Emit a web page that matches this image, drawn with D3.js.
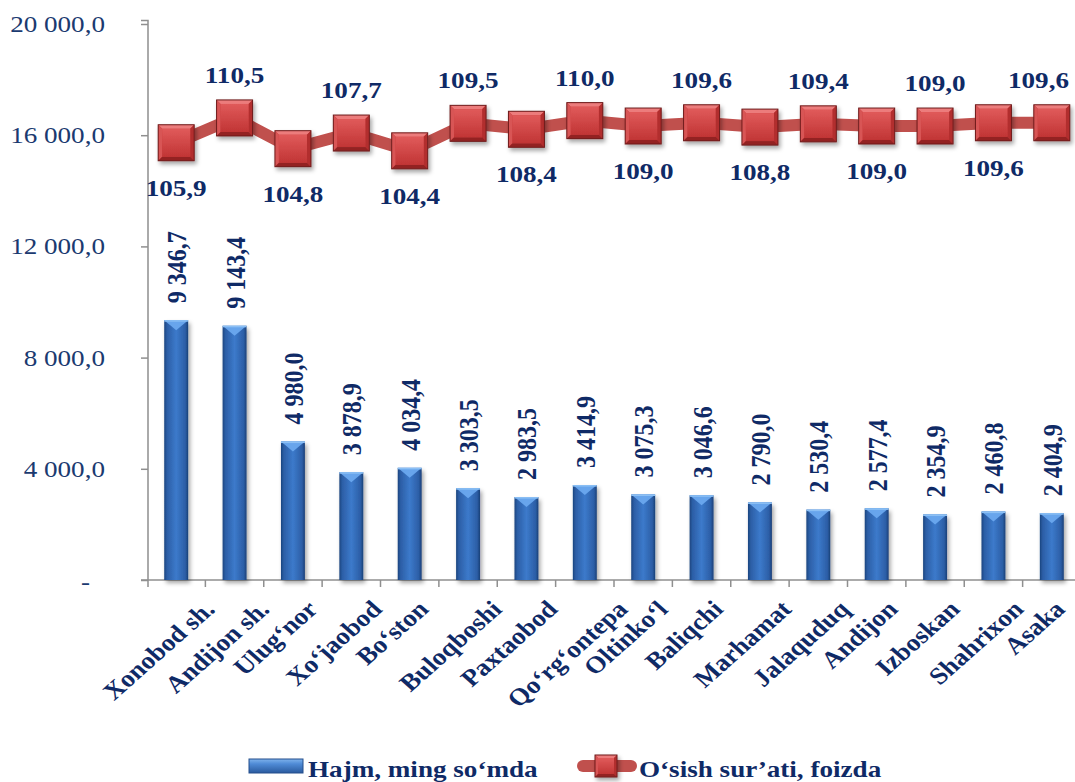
<!DOCTYPE html>
<html lang="en">
<head>
  <meta charset="UTF-8">
  <title>Hajm va o'sish sur'ati</title>
  <script src="https://d3js.org/d3.v7.min.js"></script>
  <style>
    * { margin: 0; padding: 0; box-sizing: border-box; }
    body { width: 1075px; height: 782px; background: #fff; overflow: hidden; }
    svg { display: block; }
    text { font-family: "Liberation Serif", "Times New Roman", serif; }
  </style>
</head>
<body>
  <div id="chart"></div>

  <script>
    // Data
    const categories = ["Xonobod sh.", "Andijon sh.", "Ulug‘nor", "Xo‘jaobod", "Bo‘ston", "Buloqboshi",
      "Paxtaobod", "Qo‘rg‘ontepa", "Oltinko‘l", "Baliqchi", "Marhamat", "Jalaquduq",
      "Andijon", "Izboskan", "Shahrixon", "Asaka"];
    const volume = [9346.7, 9143.4, 4980.0, 3878.9, 4034.4, 3303.5, 2983.5, 3414.9,
      3075.3, 3046.6, 2790.0, 2530.4, 2577.4, 2354.9, 2460.8, 2404.9];
    const growth = [105.9, 110.5, 104.8, 107.7, 104.4, 109.5, 108.4, 110.0,
      109.0, 109.6, 108.8, 109.4, 109.0, 109.0, 109.6, 109.6];
    const yTicks = [0, 4000, 8000, 12000, 16000, 20000];
    const seriesNames = ["Hajm, ming so‘mda", "O‘sish sur’ati, foizda"];

    const width = 1075, height = 782;
    const SX = 1.13;            // text in the picture is a bit wide
    const navy = "#0f2a66";
    const axisGrey = "#8f8f8f";

    const svg = d3.select("#chart").append("svg")
      .attr("width", width).attr("height", height);

    const defs = svg.append("defs");

    const barGrad = defs.append("linearGradient").attr("id", "barGrad")
      .attr("x1", 0).attr("x2", 1).attr("y1", 0).attr("y2", 0);
    [[0, "#1b457f"], [0.12, "#2c5ea6"], [0.5, "#3c7acb"], [0.88, "#2c5ea6"], [1, "#1a4077"]]
      .forEach(s => barGrad.append("stop").attr("offset", s[0]).attr("stop-color", s[1]));

    const legGrad = defs.append("linearGradient").attr("id", "legGrad")
      .attr("x1", 0).attr("x2", 0).attr("y1", 0).attr("y2", 1);
    [[0, "#7fb3ec"], [0.35, "#4f8bd6"], [1, "#2a5a9e"]]
      .forEach(s => legGrad.append("stop").attr("offset", s[0]).attr("stop-color", s[1]));

    const faceGrad = defs.append("linearGradient").attr("id", "faceGrad")
      .attr("x1", 0).attr("x2", 0).attr("y1", 0).attr("y2", 1);
    [[0, "#e05a5a"], [1, "#c13535"]]
      .forEach(s => faceGrad.append("stop").attr("offset", s[0]).attr("stop-color", s[1]));

    const shadow = defs.append("filter").attr("id", "shadow")
      .attr("x", "-30%").attr("y", "-30%").attr("width", "160%").attr("height", "160%");
    shadow.append("feDropShadow").attr("dx", 2).attr("dy", 3)
      .attr("stdDeviation", 2).attr("flood-color", "#000").attr("flood-opacity", 0.35);

    // Scales
    const x = d3.scaleBand().domain(categories).range([147, 1081])
      .paddingInner(0.59).paddingOuter(0.295);
    const y = d3.scaleLinear().domain([0, 20000]).range([580, 24]);
    const y2 = d3.scaleLinear().domain([24.9, 127.9]).range([580, 24]);
    const cx = d => x(d) + x.bandwidth() / 2;

    const fmt = v => v === 0 ? "-" :
      d3.format(",.1f")(v).replace(/,/g, " ").replace(".", ",");

    // helper: text stretched horizontally like in the picture
    function place(sel, tx, ty, rot) {
      sel.attr("transform", (d, i) =>
        `translate(${tx(d, i)},${ty(d, i)}) scale(${SX},1) rotate(${rot})`);
    }

    // Y axis
    const yAxis = svg.append("g").attr("transform", "translate(148,0)")
      .call(d3.axisLeft(y).tickValues(yTicks).tickSize(7).tickFormat(""));
    yAxis.select(".domain").attr("stroke", axisGrey).attr("stroke-width", 1.5)
      .attr("d", "M-7,20.5H0V587");
    yAxis.selectAll(".tick line").attr("stroke", axisGrey).attr("stroke-width", 1.5);

    svg.append("g").selectAll("text").data(yTicks).join("text")
      .attr("text-anchor", "end")
      .attr("dominant-baseline", "central")
      .attr("font-size", 24)
      .attr("fill", "#1b3a70")
      .text(d => fmt(d))
      .call(place, d => d === 0 ? 90 : 105, d => y(d) + (d === 0 ? 2 : 0), 0);

    // X axis
    const bounds = categories.map(c => x(c) - x.step() * x.paddingInner() / 2);
    const xAxis = svg.append("g");
    xAxis.append("line").attr("x1", 141).attr("x2", width)
      .attr("y1", 580).attr("y2", 580)
      .attr("stroke", axisGrey).attr("stroke-width", 1.5);
    xAxis.selectAll(".tk").data(bounds.slice(1)).join("line").attr("class", "tk")
      .attr("x1", d => d).attr("x2", d => d).attr("y1", 580).attr("y2", 587)
      .attr("stroke", axisGrey).attr("stroke-width", 1.5);

    // Bars
    const bars = svg.append("g").selectAll("g").data(categories).join("g");
    bars.append("rect")
      .attr("x", d => x(d)).attr("width", x.bandwidth())
      .attr("y", (d, i) => y(volume[i]))
      .attr("height", (d, i) => y(0) - y(volume[i]))
      .attr("fill", "url(#barGrad)")
      .attr("filter", "url(#shadow)");
    bars.append("polygon")
      .attr("points", (d, i) => {
        const t = y(volume[i]), l = x(d), r = l + x.bandwidth();
        return `${l},${t} ${r},${t} ${cx(d)},${t + 10}`;
      })
      .attr("fill", "#6aa8ee").attr("opacity", 0.95);
    bars.append("rect")
      .attr("x", d => x(d)).attr("width", x.bandwidth())
      .attr("y", (d, i) => y(volume[i])).attr("height", 1.5)
      .attr("fill", "#8cc0f5");

    // Bar labels
    svg.append("g").selectAll("text").data(categories).join("text")
      .attr("text-anchor", "start")
      .attr("dominant-baseline", "central")
      .attr("font-size", 24).attr("font-weight", "bold")
      .attr("fill", navy)
      .text((d, i) => fmt(volume[i]))
      .call(place, d => cx(d) + 1, (d, i) => y(volume[i]) - 17, -90);

    // Growth line
    const line = d3.line().x((d, i) => cx(categories[i])).y(d => y2(d));
    svg.append("path").datum(growth)
      .attr("d", line)
      .attr("fill", "none")
      .attr("stroke", "#c0504d")
      .attr("stroke-width", 12);

    function marker(g, s) {
      const b = Math.max(3, s / 4.5);
      g.attr("filter", "url(#shadow)");
      g.append("rect").attr("x", -s).attr("y", -s).attr("width", 2 * s).attr("height", 2 * s)
        .attr("fill", "#c83c3c");
      g.append("polygon").attr("points", `${-s},${-s} ${s},${-s} ${s - b},${-s + b} ${-s + b},${-s + b}`)
        .attr("fill", "#ec7b7b");
      g.append("polygon").attr("points", `${-s},${-s} ${-s + b},${-s + b} ${-s + b},${s - b} ${-s},${s}`)
        .attr("fill", "#d85454");
      g.append("polygon").attr("points", `${s},${-s} ${s - b},${-s + b} ${s - b},${s - b} ${s},${s}`)
        .attr("fill", "#b22e2e");
      g.append("polygon").attr("points", `${-s},${s} ${s},${s} ${s - b},${s - b} ${-s + b},${s - b}`)
        .attr("fill", "#932424");
      g.append("rect").attr("x", -s + b).attr("y", -s + b)
        .attr("width", 2 * (s - b)).attr("height", 2 * (s - b))
        .attr("fill", "url(#faceGrad)");
      g.append("rect").attr("x", -s).attr("y", -s).attr("width", 2 * s).attr("height", 2 * s)
        .attr("fill", "none").attr("stroke", "#6e1d1d").attr("stroke-width", 1);
    }

    svg.append("g").selectAll("g").data(growth).join("g")
      .attr("transform", (d, i) => `translate(${cx(categories[i])},${y2(d)})`)
      .each(function () { marker(d3.select(this), 18); });

    // Growth labels, alternating below / above, kept inside the chart
    svg.append("g").selectAll("text").data(growth).join("text")
      .attr("text-anchor", "middle")
      .attr("font-size", 24).attr("font-weight", "bold")
      .attr("fill", navy)
      .text(d => fmt(d))
      .each(function (d, i) {
        const half = this.getComputedTextLength() * SX / 2;
        const px = Math.min(cx(categories[i]), width - 6 - half);
        const py = y2(d) + (i % 2 ? -35 : 53);
        d3.select(this).attr("transform", `translate(${px},${py}) scale(${SX},1)`);
      });

    // Category labels, rotated
    const catText = svg.append("g").selectAll("text").data(categories).join("text")
      .attr("text-anchor", "middle")
      .attr("dominant-baseline", "central")
      .attr("font-size", 24).attr("font-weight", "bold")
      .attr("fill", navy)
      .text(d => d);
    catText.each(function (d) {
      const L = this.getComputedTextLength();
      const yc = 599 + (L + 17) * 0.7071 / 2;
      d3.select(this).attr("transform",
        `translate(${cx(d) - 17.5},${yc}) scale(${SX},1) rotate(-45)`);
    });

    // Legend
    const leg = svg.append("g");
    leg.append("rect").attr("x", 249).attr("y", 759).attr("width", 54).attr("height", 14)
      .attr("fill", "url(#legGrad)").attr("stroke", "#244f8c").attr("stroke-width", 1);
    leg.append("text").attr("font-size", 24).attr("font-weight", "bold").attr("fill", navy)
      .text(seriesNames[0])
      .attr("transform", `translate(308,777) scale(${SX},1)`);

    leg.append("line").attr("x1", 583).attr("x2", 631).attr("y1", 766).attr("y2", 766)
      .attr("stroke", "#c0504d").attr("stroke-width", 12).attr("stroke-linecap", "round");
    marker(leg.append("g").attr("transform", "translate(606,766)"), 11);
    leg.append("text").attr("font-size", 24).attr("font-weight", "bold").attr("fill", navy)
      .text(seriesNames[1])
      .attr("transform", `translate(639,777) scale(${SX},1)`);
  </script>
</body>
</html>
